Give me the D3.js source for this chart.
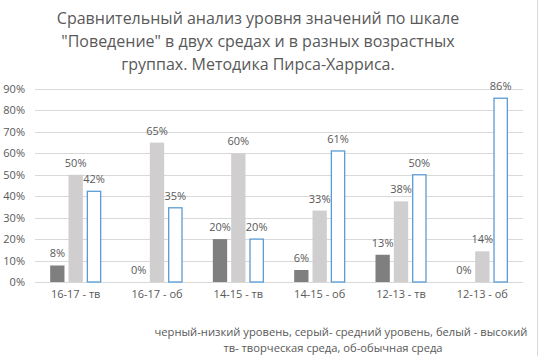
<!DOCTYPE html>
<html>
<head>
<meta charset="utf-8">
<script src="https://cdn.jsdelivr.net/npm/d3@7"></script>
<style>
  body { margin: 0; background: #fff; }
  svg text { font-family: "Open Sans", "Noto Sans", sans-serif; fill: #595959; }
</style>
</head>
<body>
<div id="chart"></div>
<script>
var width = 539,
	height = 356;

// Data
var categories = ["16-17 - тв", "16-17 - об", "14-15 - тв", "14-15 - об", "12-13 - тв", "12-13 - об"];
var series = ["low", "mid", "high"];
var lowValues = [7.7, 0, 20, 5.6, 12.7, 0];
var midValues = [50, 65, 60, 33.3, 37.6, 14.3];
var highValues = [42.3, 34.6, 20, 61.1, 50, 85.7];
var yTicks = [0, 10, 20, 30, 40, 50, 60, 70, 80, 90];
var titleLines = ["Сравнительный анализ уровня значений по шкале",
	"\"Поведение\" в двух средах и в разных возрастных",
	"группах. Методика Пирса-Харриса."];
var noteLines = ["черный-низкий уровень, серый- средний уровень, белый - высокий",
	"тв- творческая среда, об-обычная среда"];

var rows = categories.map(function(c, i){
	return {cat: c, low: lowValues[i], mid: midValues[i], high: highValues[i]};
});

var svg = d3.select("#chart")
	.append("svg")
	.attr("width", width)
	.attr("height", height);

// right border of chart area
svg.append("line")
	.attr("x1", 537.5).attr("x2", 537.5)
	.attr("y1", 0).attr("y2", height)
	.attr("stroke", "#d9d9d9");

// Title
svg.append("g")
	.selectAll("text")
	.data(titleLines)
	.enter()
	.append("text")
	.attr("x", 258)
	.attr("y", function(d, i){ return 24 + i * 23; })
	.attr("text-anchor", "middle")
	.style("font-size", "16px")
	.text(function(d){ return d; });

// Scales
var x = d3.scaleBand()
	.domain(categories)
	.range([35, 523]);

var groupW = 51;
var xInner = d3.scaleBand()
	.domain(series)
	.range([(x.bandwidth() - groupW) / 2, (x.bandwidth() + groupW) / 2])
	.paddingInner(0.22);

var y = d3.scaleLinear()
	.domain([0, 90])
	.range([282, 89]);

// Grid
svg.append("g")
	.attr("class", "grid")
	.selectAll("line")
	.data(yTicks)
	.enter()
	.append("line")
	.attr("x1", 35).attr("x2", 523)
	.attr("y1", function(d){ return Math.round(y(d)) + 0.5; })
	.attr("y2", function(d){ return Math.round(y(d)) + 0.5; })
	.attr("stroke", "#d9d9d9");

// Y axis labels
var yAxis = svg.append("g")
	.attr("transform", "translate(25,0)")
	.call(d3.axisLeft(y).tickValues(yTicks).tickSize(0).tickPadding(0)
		.tickFormat(function(d){ return d + "%"; }));
yAxis.select(".domain").remove();
yAxis.selectAll("text")
	.style("font-size", "11px")
	.style("font-family", null)
	.attr("fill", null);

// X axis labels
var xAxis = svg.append("g")
	.attr("transform", "translate(0,290)")
	.call(d3.axisBottom(x).tickSize(0).tickPadding(0));
xAxis.select(".domain").remove();
xAxis.selectAll("text")
	.style("font-size", "11px")
	.style("font-family", null)
	.attr("fill", null);

var colors = {low: "#7f7f7f", mid: "#d0cece", high: "#ffffff"};

// Bars
var groups = svg.append("g")
	.selectAll(".grp")
	.data(rows)
	.enter()
	.append("g")
	.attr("class", "grp")
	.attr("transform", function(d){ return "translate(" + x(d.cat) + ",0)"; });

var cells = groups.selectAll(".cell")
	.data(function(d){ return series.map(function(s){ return {key: s, value: d[s]}; }); })
	.enter()
	.append("g")
	.attr("class", "cell");

cells.append("rect")
	.attr("x", function(d){ return xInner(d.key) + (d.key == "high" ? 0.5 : 0); })
	.attr("y", function(d){ return y(d.value); })
	.attr("width", function(d){ return xInner.bandwidth() - (d.key == "high" ? 1 : 0); })
	.attr("height", function(d){ return y(0) - y(d.value); })
	.attr("fill", function(d){ return colors[d.key]; })
	.attr("stroke", function(d){ return d.key == "high" ? "#5b9bd5" : "none"; })
	.attr("stroke-width", 1.3);

cells.append("text")
	.attr("x", function(d){ return xInner(d.key) + xInner.bandwidth() / 2; })
	.attr("y", function(d){ return y(d.value) - 8; })
	.attr("text-anchor", "middle")
	.style("font-size", "11px")
	.text(function(d){ return Math.round(d.value) + "%"; });

// Footnote
var noteX = [341, 333];
svg.append("g")
	.selectAll("text")
	.data(noteLines)
	.enter()
	.append("text")
	.attr("x", function(d, i){ return noteX[i]; })
	.attr("y", function(d, i){ return 336 + i * 16; })
	.attr("text-anchor", "middle")
	.style("font-size", "11.2px")
	.text(function(d){ return d; });
</script>
</body>
</html>
